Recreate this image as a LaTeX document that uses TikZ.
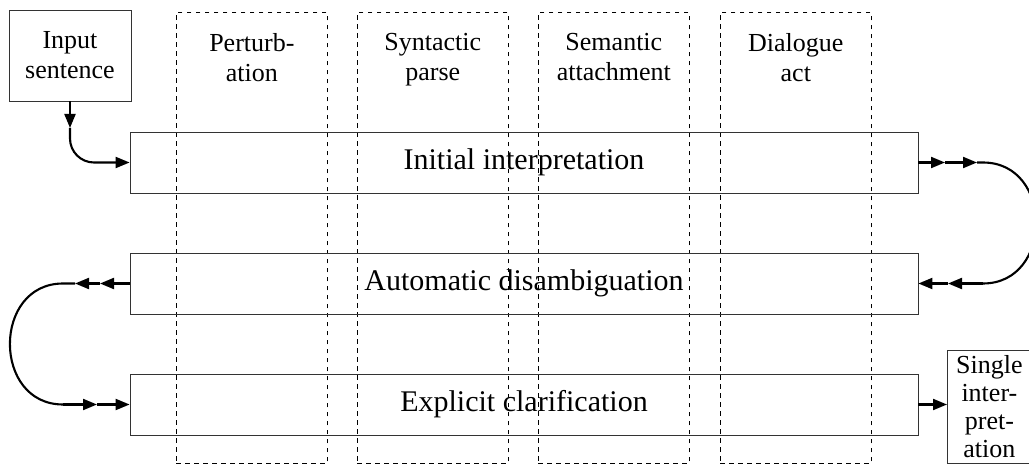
\documentclass[tikz,border=0pt]{standalone}
\usepackage{fontspec}
\setmainfont{Liberation Serif}
\usetikzlibrary{arrows.meta}
\begin{document}
\begin{tikzpicture}[x=1pt,y=-1pt,
  box/.style={draw=black!80, line width=0.8pt, inner sep=0pt},
  col/.style={draw=black, line width=0.7pt, dash pattern=on 4.5pt off 4.5pt, inner sep=0pt},
  big/.style={font=\fontsize{30}{34}\selectfont},
  small/.style={font=\fontsize{26}{30}\selectfont, align=center},
  flow/.style={line width=2.1pt},
  arr/.style={flow, -{Triangle[length=14pt,width=11pt]}}]
\useasboundingbox (0,0) rectangle (1029,465);
\clip (0,0) rectangle (1029,465);
% dashed columns
\node[col, minimum width=151pt, minimum height=451pt, anchor=north west] (c1) at (176,12) {};
\node[col, minimum width=151pt, minimum height=451pt, anchor=north west] (c2) at (357,12) {};
\node[col, minimum width=151pt, minimum height=451pt, anchor=north west] (c3) at (538,12) {};
\node[col, minimum width=151pt, minimum height=451pt, anchor=north west] (c4) at (720,12) {};
\node[small, anchor=north, inner sep=0pt] (l1) at (c1.north |- 0,33) {Perturb-\\ation};
\node[small, anchor=north, inner sep=0pt] (l2) at (c2.north |- 0,33) {Syntactic\\parse};
\node[small, anchor=north, inner sep=0pt] (l3) at (c3.north |- 0,33) {Semantic\\attachment};
\node[small, anchor=north, inner sep=0pt] (l4) at (c4.north |- 0,33) {Dialogue\\act};
% boxes
\node[box, small, minimum width=122pt, minimum height=91pt] (input) at (70,55.5) {Input\\sentence};
\node[box, big, minimum width=788pt, minimum height=61pt] (init) at (524,162.5) {Initial interpretation};
\node[box, big, minimum width=788pt, minimum height=61pt] (auto) at (524,283.5) {Automatic disambiguation};
\node[box, big, minimum width=788pt, minimum height=61pt] (expl) at (524,404.5) {Explicit clarification};
\node[box, small, font=\fontsize{26}{28}\selectfont, anchor=north west, minimum width=84pt, minimum height=113pt] (single) at (947,350) {Single\\inter-\\pret-\\ation};
% input arrow
\coordinate (i1) at (70,128);
\draw[arr] (input.south) -- (i1);
\draw[arr, rounded corners=24pt] (i1) |- (init.west);
% right loop
\coordinate (r1) at (945,162.5);
\coordinate (r2) at (977,162.5);
\coordinate (r3) at (983,162.5);
\coordinate (r4) at (983,283.5);
\coordinate (r5) at (948,283.5);
\draw[arr] (init.east) -- (r1);
\draw[arr] (r1) -- (r2);
\draw[flow] (r2) -- (r3) to[out=0,in=0,looseness=1.5] (r4);
\draw[arr] (r4) -- (r5);
\draw[arr] (r5) -- (auto.east);
% left loop
\coordinate (q1) at (100,283.5);
\coordinate (q2) at (75,283.5);
\coordinate (q3) at (63,283.5);
\coordinate (q4) at (63,404.5);
\coordinate (q5) at (97,404.5);
\draw[arr] (auto.west) -- (q1);
\draw[arr] (q1) -- (q2);
\draw[flow] (q2) -- (q3) to[out=180,in=180,looseness=1.5] (q4);
\draw[arr] (q4) -- (q5);
\draw[arr] (q5) -- (expl.west);
% output
\draw[arr] (expl.east) -- (expl.east -| single.west);
\end{tikzpicture}
\end{document}
